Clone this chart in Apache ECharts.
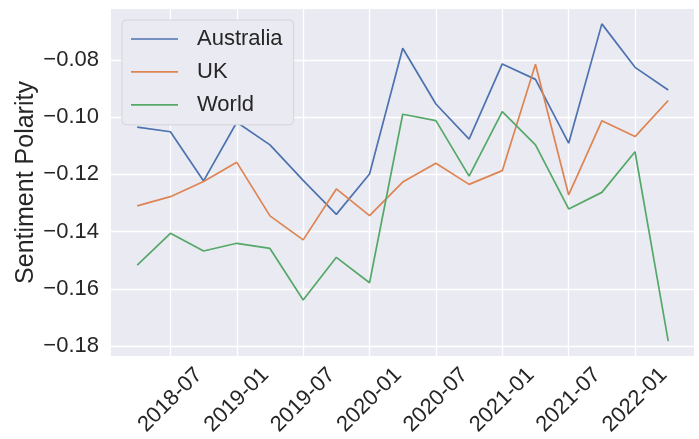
<!DOCTYPE html>
<html>
<head>
<meta charset="utf-8">
<script src="https://cdn.jsdelivr.net/npm/echarts@6/dist/echarts.min.js"></script>
<style>
  html, body { margin: 0; padding: 0; background: #fff; }
  #chart { width: 699px; height: 439px; }
</style>
</head>
<body>
<div id="chart"></div>
<script>
// quarterly dates
const dates = ['2018-04','2018-07','2018-10','2019-01','2019-04','2019-07',
  '2019-10','2020-01','2020-04','2020-07','2020-10','2021-01',
  '2021-04','2021-07','2021-10','2022-01','2022-04'];
const australia = [-0.1035,-0.1051,-0.1223,-0.1018,-0.1097,-0.1221,-0.1340,-0.1199,
  -0.0759,-0.0954,-0.1077,-0.0814,-0.0868,-0.1091,-0.0674,-0.0826,-0.0905];
const uk = [-0.1310,-0.1278,-0.1225,-0.1158,-0.1345,-0.1429,-0.1251,-0.1344,
  -0.1227,-0.1161,-0.1235,-0.1187,-0.0815,-0.1272,-0.1013,-0.1068,-0.0942];
const world = [-0.1517,-0.1406,-0.1468,-0.1441,-0.1459,-0.1639,-0.1490,-0.1579,
  -0.0990,-0.1012,-0.1206,-0.0981,-0.1097,-0.1321,-0.1263,-0.1121,-0.1783];
const xTicks = ['2018-07','2019-01','2019-07','2020-01','2020-07',
  '2021-01','2021-07','2022-01'];
const yTicks = [-0.18,-0.16,-0.14,-0.12,-0.10,-0.08];

const colors = ['#4c72b0','#dd8452','#55a868'];
// months since 2018-01
const mIdx = s => (parseInt(s.slice(0, 4)) - 2018) * 12 + parseInt(s.slice(5, 7)) - 1;
const mLabel = m => {
  const y = 2018 + Math.floor(m / 12), mo = Math.round(m - (y - 2018) * 12) + 1;
  return y + '-' + (mo < 10 ? '0' : '') + mo;
};
const pairs = vals => dates.map((d, i) => [mIdx(d), vals[i]]);

const chart = echarts.init(document.getElementById('chart'));

function mkSeries(name, vals, c) {
  return {
    name: name, type: 'line', data: pairs(vals),
    symbol: 'none', showSymbol: false,
    lineStyle: { color: c, width: 1.7 }, itemStyle: { color: c }
  };
}

chart.setOption({
  animation: false,
  textStyle: { fontFamily: 'Liberation Sans, Arial, sans-serif' },
  grid: {
    left: 111, right: 5, top: 9, bottom: 83,
    show: true, backgroundColor: '#eaeaf2', borderWidth: 0
  },
  legend: {
    orient: 'vertical', left: 122, top: 20,
    padding: [8, 11, 9, 9],
    backgroundColor: '#eaeaf2',
    borderColor: '#d4d4da', borderWidth: 1, borderRadius: 4,
    icon: 'rect', itemWidth: 47, itemHeight: 1.7, itemGap: 10.9,
    textStyle: { fontSize: 22, color: '#262626', padding: [0, 0, 0, 14] },
    data: ['Australia', 'UK', 'World']
  },
  xAxis: {
    type: 'value', min: 0.63, max: 53.33,
    axisLine: { show: false }, axisTick: { show: false, customValues: xTicks.map(mIdx) },
    splitLine: { show: true, lineStyle: { color: '#ffffff', width: 1.3 } },
    axisLabel: {
      customValues: xTicks.map(mIdx),
      rotate: 45, align: 'center', verticalAlign: 'middle',
      fontSize: 22, color: '#262626', margin: 44,
      formatter: v => mLabel(v)
    }
  },
  yAxis: {
    type: 'value', min: -0.1835, max: -0.0622,
    name: 'Sentiment Polarity', nameLocation: 'middle', nameGap: 72,
    nameMoveOverlap: false,
    nameTextStyle: { fontSize: 25, color: '#262626' },
    axisLine: { show: false }, axisTick: { show: false, customValues: yTicks },
    splitLine: { show: true, lineStyle: { color: '#ffffff', width: 1.3 } },
    axisLabel: {
      customValues: yTicks, fontSize: 22, color: '#262626', margin: 12,
      padding: [5, 0, 0, 0],
      formatter: v => '\u2212' + Math.abs(v).toFixed(2)
    }
  },
  series: [
    mkSeries('Australia', australia, colors[0]),
    mkSeries('UK', uk, colors[1]),
    mkSeries('World', world, colors[2])
  ]
});
</script>
</body>
</html>
